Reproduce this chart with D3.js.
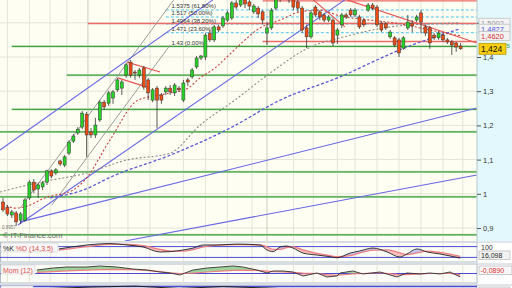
<!DOCTYPE html>
<html>
<head>
<meta charset="utf-8">
<script src="https://cdn.jsdelivr.net/npm/d3@7"></script>
<style>
html, body { margin: 0; padding: 0; background: #fff; }
svg { display: block; font-family: "Liberation Sans", Arial, sans-serif; }
</style>
</head>
<body>
<div id="chart"></div>
<script>
// ---- price data (daily candles) ----
const opens = [
  0.976,0.961,0.938,0.944,0.923,0.923,0.988,1.034,1.014,1.020,
  1.034,1.067,1.061,1.096,1.084,1.119,1.154,1.178,1.195,1.233,
  1.181,1.172,1.216,1.268,1.265,1.280,1.304,1.309,1.347,1.385,
  1.356,1.347,1.368,1.333,1.274,1.309,1.289,1.298,1.309,1.295,
  1.309,1.274,1.333,1.342,1.371,1.397,1.400,1.470,1.450,1.488,
  1.491,1.508,1.514,1.558,1.552,1.567,1.561,1.532,1.543,1.532,
  1.470,1.485,1.543,1.572,1.596,1.584,1.567,1.561,1.543,1.485,
  1.459,1.546,1.532,1.523,1.508,1.508,1.464,1.494,1.523,1.537,
  1.523,1.517,1.508,1.537,1.552,1.546,1.499,1.497,1.459,1.456,
  1.450,1.426,1.485,1.499,1.508,1.529,1.488,1.485,1.464,1.456,
  1.464,1.450,1.444,1.441,1.432
];
const highs = [
  0.988,0.967,0.953,0.950,0.947,0.988,1.040,1.043,1.032,1.037,
  1.070,1.072,1.075,1.099,1.113,1.157,1.175,1.195,1.242,1.239,
  1.192,1.222,1.274,1.274,1.301,1.304,1.339,1.333,1.383,1.391,
  1.362,1.368,1.374,1.339,1.309,1.315,1.295,1.315,1.318,1.324,
  1.315,1.333,1.339,1.368,1.403,1.406,1.470,1.479,1.494,1.494,
  1.520,1.535,1.564,1.567,1.575,1.581,1.567,1.555,1.549,1.537,
  1.502,1.543,1.572,1.610,1.610,1.596,1.575,1.567,1.549,1.494,
  1.537,1.552,1.537,1.529,1.523,1.514,1.485,1.529,1.529,1.543,
  1.543,1.523,1.514,1.558,1.558,1.552,1.505,1.502,1.479,1.461,
  1.456,1.461,1.523,1.508,1.523,1.537,1.494,1.491,1.470,1.476,
  1.470,1.456,1.450,1.444,1.441
];
const lows = [
  0.947,0.935,0.929,0.906,0.912,0.918,0.982,1.002,0.988,1.011,
  1.026,1.046,1.055,1.081,1.078,1.113,1.149,1.172,1.189,1.108,
  1.163,1.163,1.210,1.245,1.257,1.263,1.298,1.289,1.339,1.339,
  1.333,1.339,1.304,1.274,1.268,1.192,1.263,1.289,1.289,1.286,
  1.298,1.268,1.315,1.336,1.365,1.391,1.391,1.444,1.444,1.473,
  1.485,1.502,1.508,1.540,1.546,1.543,1.537,1.526,1.514,1.497,
  1.435,1.479,1.537,1.561,1.567,1.558,1.537,1.532,1.470,1.426,
  1.453,1.517,1.508,1.502,1.502,1.432,1.438,1.485,1.511,1.517,
  1.517,1.482,1.488,1.532,1.537,1.488,1.473,1.479,1.453,1.429,
  1.400,1.421,1.479,1.473,1.502,1.470,1.461,1.424,1.450,1.450,
  1.444,1.438,1.406,1.415,1.421
];
const closes = [
  0.953,0.941,0.947,0.918,0.941,0.982,1.034,1.011,1.026,1.032,
  1.067,1.052,1.070,1.087,1.108,1.151,1.169,1.189,1.236,1.172,
  1.172,1.201,1.268,1.254,1.295,1.298,1.333,1.327,1.377,1.347,
  1.353,1.362,1.312,1.295,1.304,1.274,1.274,1.309,1.298,1.318,
  1.304,1.324,1.327,1.362,1.397,1.403,1.464,1.450,1.488,1.479,
  1.514,1.529,1.558,1.546,1.567,1.555,1.549,1.549,1.526,1.508,
  1.485,1.537,1.567,1.596,1.578,1.567,1.546,1.543,1.479,1.459,
  1.529,1.523,1.517,1.508,1.517,1.441,1.479,1.523,1.517,1.523,
  1.537,1.488,1.494,1.552,1.543,1.494,1.479,1.485,1.473,1.435,
  1.412,1.456,1.502,1.491,1.517,1.502,1.470,1.441,1.456,1.470,
  1.450,1.444,1.435,1.429,1.424
];

// moving averages: [bar index, price]
const maFast = [[0,0.973],[2.7,0.958],[5.5,0.964],[9.5,0.988],[15.9,1.011],[18.6,1.040],[24.3,1.157],
  [30.7,1.274],[35.7,1.289],[39.1,1.298],[41.4,1.304],[44.8,1.339],[48.2,1.368],[50.9,1.400],[55,1.450],
  [58.4,1.485],[63,1.508],[67.5,1.532],[72,1.537],[76.6,1.520],[81.1,1.511],[85.7,1.505],[90.2,1.497],
  [94.8,1.485],[99.3,1.473],[103.9,1.462]];
const maMid = [[-0.7,1.005],[8.4,1.034],[18.2,1.058],[28.2,1.099],[38,1.119],[44.8,1.201],[52.7,1.274],
  [60.7,1.353],[69.8,1.429],[76.6,1.456],[88,1.488],[99.3,1.498],[103.9,1.5002]];
const maSlow = [[10.7,0.988],[18.2,1.011],[25,1.052],[38,1.113],[51.6,1.192],[63,1.274],[76.6,1.342],
  [90.2,1.421],[103.9,1.4827]];

// drawn trend lines: pairs of [bar index, price]
const blueTrends = [
  [[-0.7,1.128],[47.7,1.567]],
  [[3.4,0.909],[77.7,1.567]],
  [[3.9,0.918],[107.7,1.251]],
  [[27.7,0.862],[107.7,1.055]]
];
const grayTrends = [
  [[3.9,0.958],[38.8,1.567]],
  [[11.1,0.967],[38,1.435]]
];
const redTrends = [
  [[28.2,1.385],[35.7,1.356]],
  [[26.1,1.339],[32.7,1.312]],
  [[70.5,1.567],[77.7,1.488]],
  [[78.2,1.567],[107.7,1.441]]
];

// horizontal levels
const greenLevels = [1.431, 1.347, 1.247, 1.181, 1.064, 0.991, 0.880];
const greenStarts = [2, 14.5, 2, -1, -1, -1, -1];
const redLevels = [1.564, 1.498, 1.4453];
const redStarts = [59, 19.3, 59];
const fibLevels = [1.5375, 1.517, 1.4964, 1.471, 1.43];
const fibLabels = ["1.5375 (61.80%)", "1.517 (50.00%)", "1.4964 (38.20%)", "1.471 (23.60%)", "1.43 (0.00%)"];

const priceTicks = [0.9, 1.0, 1.1, 1.2, 1.3, 1.4, 1.5];
const gridBars = [1, 6, 10.7, 14.5, 19.3, 24.3, 28.4, 33.4, 41, 46, 51, 56.6, 60, 66, 70.5, 76, 80, 85, 90, 95, 100, 104.5];
const darkGridBars = [19.3, 60];

// right side value tags
const maTags = [
  { v: 1.5002, text: "1,5002", color: "#9a9a9a" },
  { v: 1.4827, text: "1,4827", color: "#5050d8" },
  { v: 1.4620, text: "1,4620", color: "#d83030" }
];
const lastPrice = 1.424;

// stochastic %K / %D  [bar index, value]
const stochIdx = [12.7,19.1,24.3,28.2,31.8,35.7,38,40.9,43.2,45.5,48.6,53.2,58.4,60,61.4,63,64.5,65.9,68.2,
  71.4,74.3,75.9,78.9,81.1,84.1,87.3,90.2,91.8,94.1,96.4,99.3,101.6,103.9];
const stochK = [67,89,97,89,78,50,52,61,72,89,89,94,89,61,52,78,83,72,44,33,24,18,44,56,72,50,22,39,67,50,39,28,16.1];
const stochD = [60,80,92,92,85,65,55,55,63,78,88,91,90,78,65,65,75,78,62,42,30,24,30,45,60,62,45,35,45,55,48,38,25];

// momentum and its signal
const momIdx = [7.7,11.4,14.5,19.1,22,25.9,29.5,32.7,35.7,38,40.2,43.2,46.4,49.3,52.3,54.5,57.7,60,61.4,63.6,
  65.9,68.2,71.4,73.6,75.9,76.6,79.5,81.8,85.7,89.5,91.8,94.8,97,99.3,101.6,103.9];
const mom = [0.092,0.145,0.171,0.171,0.197,0.171,0.118,0.092,0.039,0.013,-0.039,0.092,0.145,0.171,0.197,0.171,
  0.092,0.013,0.066,0.066,0.039,-0.066,0.013,-0.092,-0.066,0.013,0.066,-0.013,0.039,-0.092,0.013,-0.013,
  0.013,-0.013,0.039,-0.089];
const momSig = [0.03,0.05,0.07,0.09,0.1,0.11,0.1,0.08,0.05,0.02,0.0,0.01,0.04,0.06,0.08,0.09,0.08,0.06,0.05,
  0.04,0.03,0.01,0.0,-0.03,-0.05,-0.04,-0.01,0.0,0.02,-0.02,-0.03,-0.01,0.0,0.0,0.0,-0.03];

const rsiIdx = [8, 20, 30, 40, 50, 60, 70, 80, 90, 100, 104];
const rsi = [70, 78, 82, 72, 80, 74, 66, 62, 58, 56, 61.5];

// ---- layout ----
const W = 512, H = 288;
const plotRight = 477, plotBottom = 241;
const stochBox = { top: 242, bottom: 262, clip: "clipStoch" };
const momBox = { top: 264, bottom: 283, clip: "clipMom" };
const rsiBox = { top: 285, bottom: 306, clip: "clipRsi" };

const svg = d3.select("#chart").append("svg")
  .attr("width", W).attr("height", H);

const x = d3.scaleLinear().domain([0, 104]).range([3, 460.6]);
const y = d3.scaleLinear().domain([0.9, 1.4]).range([228, 57]);

const defs = svg.append("defs");
defs.append("clipPath").attr("id", "clipMain")
  .append("rect").attr("x", 0).attr("y", 0).attr("width", plotRight).attr("height", plotBottom);
[stochBox, momBox, rsiBox].forEach(b => {
  defs.append("clipPath").attr("id", b.clip)
    .append("rect").attr("x", 0).attr("y", b.top).attr("width", plotRight).attr("height", b.bottom - b.top);
});

svg.append("rect").attr("width", W).attr("height", H).attr("fill", "#ffffff");

// main panel background + axis strip
svg.append("rect").attr("x", 0).attr("y", 0).attr("width", plotRight).attr("height", plotBottom)
  .attr("fill", "#fefef2");
svg.append("rect").attr("x", plotRight).attr("y", 0).attr("width", W - plotRight).attr("height", plotBottom)
  .attr("fill", "#e3f8fd");

const main = svg.append("g").attr("clip-path", "url(#clipMain)");

// grid
main.selectAll(".hgrid").data(priceTicks).enter().append("line")
  .attr("x1", 0).attr("x2", plotRight)
  .attr("y1", d => y(d)).attr("y2", d => y(d))
  .attr("stroke", "#e4e4d6").attr("stroke-width", 1);

main.selectAll(".vgrid").data(gridBars).enter().append("line")
  .attr("x1", d => x(d)).attr("x2", d => x(d))
  .attr("y1", 0).attr("y2", plotBottom)
  .attr("stroke", d => darkGridBars.includes(d) ? "#cdcdbc" : "#e4e4d6").attr("stroke-width", 1);

// green support / resistance levels
greenLevels.forEach((lv, i) => {
  main.append("line")
    .attr("x1", x(greenStarts[i])).attr("x2", plotRight)
    .attr("y1", y(lv)).attr("y2", y(lv))
    .attr("stroke", "#c2e2bc").attr("stroke-width", 2.4);
  main.append("line")
    .attr("x1", x(greenStarts[i])).attr("x2", plotRight)
    .attr("y1", y(lv)).attr("y2", y(lv))
    .attr("stroke", "#2f962f").attr("stroke-width", 1);
});

// fibonacci levels
fibLevels.slice(0, 4).forEach(lv => {
  main.append("line")
    .attr("x1", x(37)).attr("x2", plotRight)
    .attr("y1", y(lv)).attr("y2", y(lv))
    .attr("stroke", "#4ec3ee").attr("stroke-width", 1)
    .attr("stroke-dasharray", "3,2");
});

// red horizontal levels
redLevels.forEach((lv, i) => {
  main.append("line")
    .attr("x1", x(redStarts[i])).attr("x2", plotRight)
    .attr("y1", y(lv)).attr("y2", y(lv))
    .attr("stroke", "#ec6a6a").attr("stroke-width", 1.4);
});

// trend lines
const seg = d3.line().x(d => x(d[0])).y(d => y(d[1]));
function drawTrends(list, color, width) {
  main.selectAll(null).data(list).enter().append("path")
    .attr("d", seg).attr("fill", "none")
    .attr("stroke", color).attr("stroke-width", width);
}
drawTrends(grayTrends, "#9c9c9c", 1);
drawTrends(blueTrends, "#6666e6", 1.1);
drawTrends(redTrends, "#e85454", 1.2);

// moving averages
const maLine = d3.line().x(d => x(d[0])).y(d => y(d[1])).curve(d3.curveMonotoneX);
main.append("path").attr("d", maLine(maMid)).attr("fill", "none")
  .attr("stroke", "#8c8c8c").attr("stroke-width", 1.1).attr("stroke-dasharray", "2,2");
main.append("path").attr("d", maLine(maSlow)).attr("fill", "none")
  .attr("stroke", "#5a5ad8").attr("stroke-width", 1.3).attr("stroke-dasharray", "3,2");
main.append("path").attr("d", maLine(maFast)).attr("fill", "none")
  .attr("stroke", "#c84040").attr("stroke-width", 1.1).attr("stroke-dasharray", "2,2");

// fib labels
fibLevels.forEach((lv, i) => {
  main.append("text")
    .attr("x", x(38.3)).attr("y", y(lv) - 1.5)
    .attr("font-size", "6px").attr("fill", "#333")
    .text(fibLabels[i]);
});

// candles
const candles = d3.range(closes.length).map(i => ({
  i, o: opens[i], h: highs[i], l: lows[i], c: closes[i]
}));
const cw = 3;
const cg = main.selectAll(".candle").data(candles).enter().append("g");
cg.append("line")
  .attr("x1", d => x(d.i)).attr("x2", d => x(d.i))
  .attr("y1", d => y(d.h)).attr("y2", d => y(d.l))
  .attr("stroke", "#333").attr("stroke-width", 0.8);
cg.append("rect")
  .attr("x", d => x(d.i) - cw / 2)
  .attr("y", d => y(Math.max(d.o, d.c)))
  .attr("width", cw)
  .attr("height", d => Math.max(1, Math.abs(y(d.o) - y(d.c))))
  .attr("fill", d => d.c >= d.o ? "#26d326" : "#f04a14")
  .attr("stroke", "#333").attr("stroke-width", 0.5);

// watermark
svg.append("text").attr("x", 2).attr("y", 229)
  .attr("font-size", "4.5px").attr("fill", "#777").text("0,8957");
svg.append("text").attr("x", 3).attr("y", 238)
  .attr("font-size", "7.5px").attr("fill", "#6a6a6a").text("© IT-Finance.com");

// right price axis
svg.append("line").attr("x1", plotRight).attr("x2", plotRight).attr("y1", 0).attr("y2", plotBottom)
  .attr("stroke", "#b8c8cc");
const axisG = svg.append("g").attr("transform", `translate(${plotRight},0)`)
  .call(d3.axisRight(y).tickValues(priceTicks).tickSize(4).tickPadding(2)
    .tickFormat(d => d3.format("~g")(d).replace(".", ",")));
axisG.select(".domain").remove();
axisG.selectAll("line").attr("stroke", "#555");
axisG.selectAll("text").attr("font-size", "7.5px").attr("fill", "#333")
  .attr("font-family", "Liberation Sans, Arial, sans-serif");

// value tags (stacked, the lower ones cover the upper ones as in the source)
maTags.forEach(t => {
  svg.append("rect").attr("x", 479).attr("y", y(t.v) - 4.5).attr("width", 31).attr("height", 9)
    .attr("fill", "#f3f3f3").attr("stroke", "#bcbcbc").attr("stroke-width", 0.7);
  svg.append("text").attr("x", 481).attr("y", y(t.v) + 2.8)
    .attr("font-size", "7.5px").attr("fill", t.color).text(t.text);
});
svg.append("rect").attr("x", 479).attr("y", y(lastPrice) - 5.5).attr("width", 27).attr("height", 11)
  .attr("fill", "#f6cf10").attr("stroke", "#b39000").attr("stroke-width", 0.7);
svg.append("text").attr("x", 481).attr("y", y(lastPrice) + 3)
  .attr("font-size", "8.5px").attr("fill", "#111").text("1,424");
svg.append("text").attr("x", 506.5).attr("y", y(lastPrice) - 0.5)
  .attr("font-size", "6px").attr("fill", "#2a9a2a").text("5");

// ---- sub panels ----
function panelFrame(b) {
  svg.append("rect").attr("x", 0.5).attr("y", b.top).attr("width", plotRight - 0.5).attr("height", b.bottom - b.top)
    .attr("fill", "#fdfdf7").attr("stroke", "#b0bcc8").attr("stroke-width", 1);
  svg.append("line").attr("x1", plotRight).attr("x2", W).attr("y1", b.top).attr("y2", b.top)
    .attr("stroke", "#c4ccd4");
  const g = svg.append("g").attr("clip-path", `url(#${b.clip})`);
  g.selectAll(null).data(gridBars).enter().append("line")
    .attr("x1", d => x(d)).attr("x2", d => x(d))
    .attr("y1", b.top).attr("y2", b.bottom)
    .attr("stroke", "#e4e4d6");
  return g;
}

function pairFill(g, idx, a, b, ys, upColor, downColor) {
  const area = d3.area().x(d => x(d.i)).y0(d => ys(d.b)).y1(d => ys(d.a));
  for (let k = 0; k < idx.length - 1; k++) {
    const pts = [{ i: idx[k], a: a[k], b: b[k] }, { i: idx[k + 1], a: a[k + 1], b: b[k + 1] }];
    const up = (a[k] + a[k + 1]) >= (b[k] + b[k + 1]);
    g.append("path").attr("d", area(pts)).attr("fill", up ? upColor : downColor).attr("stroke", "none");
  }
}

// stochastic
const ys = d3.scaleLinear().domain([0, 100]).range([261, 243]);
const sg = panelFrame(stochBox);
pairFill(sg, stochIdx, stochK, stochD, ys, "#c2c2f0", "#f6bcbc");
[20, 80].forEach(v => sg.append("line").attr("x1", 0).attr("x2", plotRight)
  .attr("y1", ys(v)).attr("y2", ys(v)).attr("stroke", "#4a4ad2").attr("stroke-width", 1));
const sLine = (vals) => d3.line().x((d, k) => x(stochIdx[k])).y(d => ys(d)).curve(d3.curveMonotoneX)(vals);
sg.append("path").attr("d", sLine(stochD)).attr("fill", "none").attr("stroke", "#ee8080").attr("stroke-width", 1.3);
sg.append("path").attr("d", sLine(stochK)).attr("fill", "none").attr("stroke", "#222").attr("stroke-width", 0.9);
svg.append("rect").attr("x", 1).attr("y", 243).attr("width", 57).attr("height", 9)
  .attr("fill", "#f6f6f6").attr("stroke", "#cfcfcf").attr("stroke-width", 0.6);
svg.append("text").attr("x", 3).attr("y", 250.5).attr("font-size", "7px")
  .call(t => {
    t.append("tspan").attr("fill", "#222").text("%K ");
    t.append("tspan").attr("fill", "#e05050").text("%D (14,3,5)");
  });
svg.append("text").attr("x", 481).attr("y", 249.5).attr("font-size", "7px").attr("fill", "#333").text("100");
svg.append("rect").attr("x", 479).attr("y", 251).attr("width", 31).attr("height", 8.5)
  .attr("fill", "#f3f3f3").attr("stroke", "#aaa").attr("stroke-width", 0.6);
svg.append("text").attr("x", 481).attr("y", 258).attr("font-size", "7px").attr("fill", "#222").text("16,098");

// momentum
const ym = d3.scaleLinear().domain([-0.25, 0.25]).range([283, 264]);
const mg = panelFrame(momBox);
pairFill(mg, momIdx, mom, momSig, ym, "#9dd39a", "#f4b6b6");
mg.append("line").attr("x1", 0).attr("x2", plotRight).attr("y1", ym(0)).attr("y2", ym(0))
  .attr("stroke", "#4a4ad2").attr("stroke-width", 1);
const mLine = (vals) => d3.line().x((d, k) => x(momIdx[k])).y(d => ym(d))(vals);
mg.append("path").attr("d", mLine(momSig)).attr("fill", "none").attr("stroke", "#ee8080").attr("stroke-width", 1.2);
mg.append("path").attr("d", mLine(mom)).attr("fill", "none").attr("stroke", "#333").attr("stroke-width", 0.9);
svg.append("rect").attr("x", 1).attr("y", 265).attr("width", 34).attr("height", 9)
  .attr("fill", "#f6f6f6").attr("stroke", "#cfcfcf").attr("stroke-width", 0.6);
svg.append("text").attr("x", 3).attr("y", 272.5).attr("font-size", "7px").attr("fill", "#e05050").text("Mom (12)");
svg.append("rect").attr("x", 479).attr("y", 266).attr("width", 33).attr("height", 8.5)
  .attr("fill", "#f7f7f7").attr("stroke", "#aaa").attr("stroke-width", 0.6);
svg.append("text").attr("x", 480.5).attr("y", 273).attr("font-size", "7px").attr("fill", "#e03030").text("-0,0890");

// rsi (only its top edge is inside the picture)
const yr = d3.scaleLinear().domain([0, 100]).range([305, 282]);
const rg = panelFrame(rsiBox);
rg.append("line").attr("x1", 0).attr("x2", plotRight).attr("y1", yr(80)).attr("y2", yr(80))
  .attr("stroke", "#4a4ad2").attr("stroke-width", 1.5);
rg.append("path").attr("d", d3.line().x((d, k) => x(rsiIdx[k])).y(d => yr(d))(rsi))
  .attr("fill", "none").attr("stroke", "#222").attr("stroke-width", 1);
svg.append("rect").attr("x", 1).attr("y", 286).attr("width", 32).attr("height", 9)
  .attr("fill", "#f6f6f6").attr("stroke", "#cfcfcf").attr("stroke-width", 0.6);
svg.append("text").attr("x", 3).attr("y", 293).attr("font-size", "7px").attr("fill", "#222").text("RSI (14)");
svg.append("rect").attr("x", 479).attr("y", 287).attr("width", 31).attr("height", 8.5)
  .attr("fill", "#f3f3f3").attr("stroke", "#aaa").attr("stroke-width", 0.6);
svg.append("text").attr("x", 481).attr("y", 294).attr("font-size", "7px").attr("fill", "#222").text("61,504");
</script>
</body>
</html>
